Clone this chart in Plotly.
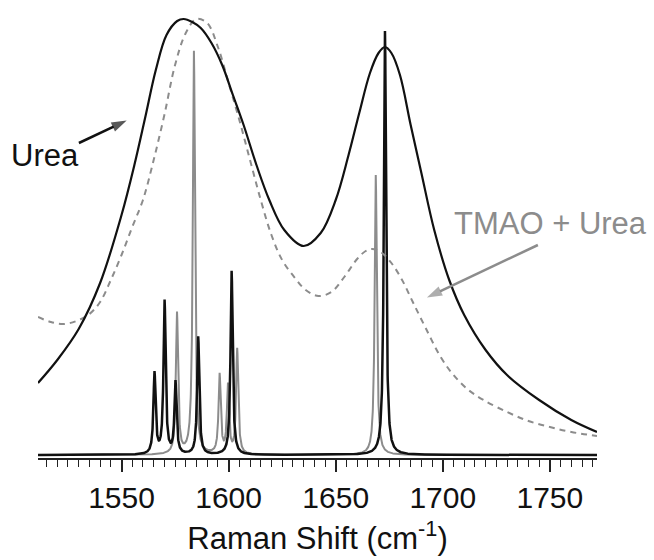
import numpy as np
import plotly.graph_objects as go

# Broad (convolved) Raman envelopes, sampled along the Raman shift axis
urea_x = [1511, 1520, 1530, 1540, 1550, 1556, 1561, 1566, 1571, 1576, 1579, 1583,
          1587, 1592, 1597, 1602, 1607, 1613, 1619, 1626, 1635, 1643, 1650, 1656,
          1661, 1666, 1670, 1673, 1676, 1680, 1685, 1690, 1696, 1703, 1710, 1720,
          1730, 1745, 1760, 1772]
urea_y = [72, 95, 126, 172, 240, 290, 337, 385, 420, 434, 436, 433,
          427, 412, 390, 360, 330, 290, 255, 225, 209, 222, 255, 300,
          342, 382, 402, 408, 402, 380, 330, 282, 225, 175, 140, 105,
          80, 55, 35, 23]

tmao_x = [1511, 1517, 1523, 1529, 1535, 1540, 1545, 1550, 1555, 1560, 1565, 1570,
          1575, 1580, 1585, 1590, 1595, 1600, 1605, 1610, 1615, 1620, 1625, 1631,
          1636, 1642, 1648, 1654, 1660, 1664, 1667, 1671, 1676, 1681, 1686, 1692,
          1699, 1705, 1712, 1719, 1730, 1740, 1750, 1760, 1772]
tmao_y = [138, 133, 131, 134, 141, 153, 175, 200, 228, 255, 295, 340,
          390, 422, 436, 432, 408, 372, 335, 295, 255, 220, 195, 177,
          165, 159, 163, 178, 196, 204, 206, 203, 192, 175, 153, 127,
          98, 80, 65, 55, 43, 34, 28, 23, 19]

# Individual computed modes (position in cm^-1, peak intensity)
urea_modes_pos = [1565.4, 1570.1, 1575.2, 1585.8, 1601.4, 1673.0]
urea_modes_int = [81, 153, 72, 118, 184, 424]
tmao_modes_pos = [1575.9, 1583.8, 1595.8, 1599.7, 1604.0, 1668.7]
tmao_modes_int = [141, 403, 79, 68, 105, 280]

X_MIN, X_MAX = 1511, 1772
HWHM = 0.6  # narrow line half-width used to render each mode


def stick_spectrum(positions, intensities):
    grid = np.arange(X_MIN, X_MAX + 0.025, 0.05)
    total = np.zeros_like(grid)
    for p, a in zip(positions, intensities):
        total += a / (1.0 + ((grid - p) / HWHM) ** 2)
    return grid, total


BLACK = "#111111"
GRAY = "#8c8c8c"
FONT = "Liberation Sans, Arial, sans-serif"

fig = go.Figure()

gx, gy = stick_spectrum(tmao_modes_pos, tmao_modes_int)
fig.add_trace(go.Scatter(x=gx, y=gy, mode="lines",
                         line=dict(color=GRAY, width=2), hoverinfo="skip"))
bx, by = stick_spectrum(urea_modes_pos, urea_modes_int)
fig.add_trace(go.Scatter(x=bx, y=by, mode="lines",
                         line=dict(color=BLACK, width=2.5), hoverinfo="skip"))

fig.add_trace(go.Scatter(x=tmao_x, y=tmao_y, mode="lines",
                         line=dict(color=GRAY, width=2, dash="6px,5px",
                                   shape="spline", smoothing=1.0)))
fig.add_trace(go.Scatter(x=urea_x, y=urea_y, mode="lines",
                         line=dict(color=BLACK, width=2.2,
                                   shape="spline", smoothing=1.0)))


def pointer(tail, head, color):
    # label pointer: a short line ending in an arrow-shaped marker
    return go.Scatter(
        x=[tail[0], head[0]], y=[tail[1], head[1]], mode="lines+markers",
        line=dict(color=color, width=2.5),
        marker=dict(symbol="arrow", size=[0, 16], angleref="previous",
                    color=color, line=dict(width=0)),
        cliponaxis=False, hoverinfo="skip")


fig.add_trace(pointer((1530.1, 312), (1552.4, 334.5), BLACK))
fig.add_trace(pointer((1744.4, 210), (1692.6, 157.4), GRAY))

fig.update_layout(
    width=654, height=560,
    margin=dict(l=38, r=57, t=0, b=102),
    paper_bgcolor="white", plot_bgcolor="white",
    showlegend=False,
    font=dict(family=FONT, color=BLACK),
    xaxis=dict(
        range=[X_MIN, X_MAX],
        showgrid=False, zeroline=False,
        showline=True, linecolor="#222222", linewidth=2,
        ticks="outside", ticklen=12, tickwidth=1.5, tickcolor="#222222",
        tick0=1550, dtick=50,
        tickfont=dict(size=30, family=FONT, color=BLACK),
        minor=dict(dtick=5, tick0=1550, ticks="outside", ticklen=7,
                   tickwidth=1.2, tickcolor="#222222", showgrid=False),
        title=dict(text="Raman Shift (cm<sup>-1</sup>)",
                   font=dict(size=31, family=FONT, color=BLACK),
                   standoff=14),
    ),
    yaxis=dict(range=[-3, 455], visible=False, showgrid=False, zeroline=False),
    annotations=[
        dict(x=1514.3, y=300, text="Urea", showarrow=False,
             font=dict(size=31, family=FONT, color=BLACK),
             xanchor="center", yanchor="middle"),
        dict(x=1750.5, y=232, text="TMAO + Urea", showarrow=False,
             font=dict(size=31, family=FONT, color=GRAY),
             xanchor="center", yanchor="middle"),
    ],
)

fig.write_html("out.html")
